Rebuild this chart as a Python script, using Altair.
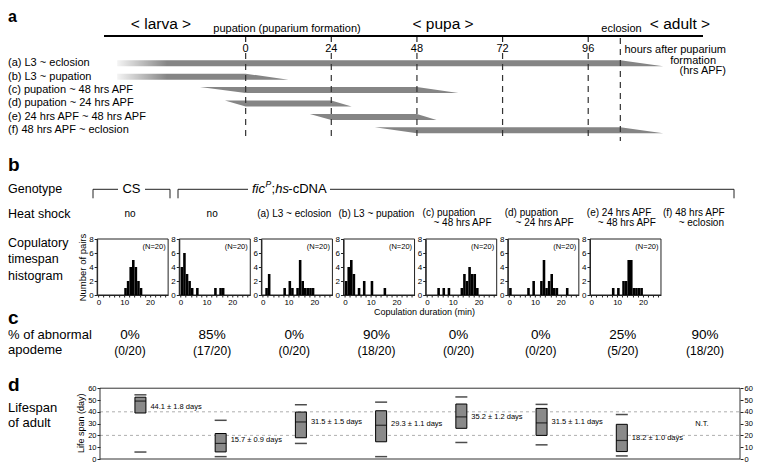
import altair as alt
import pandas as pd

FONT = "Liberation Sans"

# ---------------- data ----------------
# panel a : heat-shock periods, hours after puparium formation (hrs APF)
tick_hours = [0, 24, 48, 72, 96]
eclosion_hour = 105
row_labels = ["(a) L3 ~ eclosion", "(b) L3 ~ pupation", "(c) pupation ~ 48 hrs APF",
              "(d) pupation ~ 24 hrs APF", "(e) 24 hrs APF ~ 48 hrs APF",
              "(f) 48 hrs APF ~ eclosion"]
bar_start = [-36, -36, 0, 0, 24, 48]
bar_end = [105, 0, 48, 24, 48, 105]
lead_taper = [0, 0, 12.8, 5.8, 6.0, 11.8]
tail_taper = [12, 12, 11.6, 5.7, 5.5, 12]
fade_rows = [0, 1]
fade_until = -22

# panel b : genotype / heat shock / copulation-duration histograms
heat_line1 = ["no", "no", "(a) L3 ~ eclosion", "(b) L3 ~ pupation",
              "(c) pupation", "(d) pupation", "(e) 24 hrs APF", "(f) 48 hrs APF"]
heat_line2 = ["", "", "", "", "~ 48 hrs APF", "~ 24 hrs APF", "~ 48 hrs APF", "~ eclosion"]
hist_minutes = [
    [10, 11, 12, 13, 14, 15, 16],
    [0, 1, 2, 3, 4, 6, 13, 15, 16],
    [1, 2, 8, 10, 11, 13, 14, 15, 16, 17, 18, 19],
    [0, 1, 2, 3, 5, 7, 10, 15],
    [4, 6, 8, 13, 14, 15, 16, 17, 18, 19],
    [0, 7, 9, 12, 13, 14, 15, 16, 17, 18, 22],
    [8, 10, 12, 13, 14, 15, 16, 17, 18, 19],
]
hist_counts = [
    [1, 2, 4, 5, 4, 2, 1],
    [4, 6, 3, 2, 1, 1, 1, 1, 1],
    [1, 3, 1, 2, 1, 1, 5, 2, 1, 1, 1, 1],
    [2, 4, 5, 3, 1, 2, 2, 1],
    [1, 1, 1, 1, 3, 2, 4, 3, 3, 1],
    [1, 1, 2, 2, 5, 1, 2, 3, 1, 1, 1],
    [1, 1, 2, 2, 5, 5, 1, 1, 1, 1],
]
n_pairs = 20
count_ticks = [0, 2, 4, 6, 8]
minute_ticks = [0, 2, 4, 6, 8, 10, 12, 14, 16, 18, 20, 22, 24, 26]

# panel c : abnormal apodeme counts (out of 20)
abnormal = [0, 17, 0, 18, 0, 0, 5, 18]

# panel d : adult lifespan (days)
life_q1 = [39, 6, 18, 14.6, 26, 20, 6.3]
life_q3 = [52.4, 21.6, 39.8, 40.9, 46.6, 42.9, 29.4]
life_med = [49.1, 13.2, 31.4, 28.6, 35.7, 30.6, 15.7]
life_lo = [5.9, 2, 13.2, 2, 14, 12, 2.6]
life_hi = [54.4, 32.8, 46, 48.2, 52.6, 46.3, 37.7]
life_mean = [44.1, 15.7, 31.5, 29.3, 35.2, 31.5, 18.2]
life_sem = [1.8, 0.9, 1.5, 1.1, 1.2, 1.1, 1.0]
nt_label = "N.T."
nt_day = 30
grid_days = [20, 40]
day_ticks = [0, 10, 20, 30, 40, 50, 60]

# ---------------- helpers ----------------
ONE = pd.DataFrame({"d": [0]})


def text_layer(text, x, y, size=11, align="left", baseline="middle",
               weight="normal", style="normal"):
    return alt.Chart(pd.DataFrame({"t": [text]})).mark_text(
        align=align, baseline=baseline, fontSize=size, fontWeight=weight,
        fontStyle=style, font=FONT, color="black",
    ).encode(x=alt.value(x), y=alt.value(y), text="t:N")


def hline(x1, x2, y, width=1.0, color="#222"):
    return alt.Chart(ONE).mark_rule(strokeWidth=width, color=color).encode(
        x=alt.value(x1), x2=alt.value(x2), y=alt.value(y))


def vline(x, y1, y2, width=1.0, color="#222"):
    return alt.Chart(ONE).mark_rule(strokeWidth=width, color=color).encode(
        x=alt.value(x), y=alt.value(y1), y2=alt.value(y2))


def frame(w, h, color="#222"):
    return alt.Chart(ONE).mark_rect(fill="white", fillOpacity=0, stroke=color,
                                    strokeWidth=1).encode(
        x=alt.value(0), x2=alt.value(w), y=alt.value(0), y2=alt.value(h))


BAR_GRAY = "#858585"

# ---------------- panel a ----------------
hx = alt.Scale(domain=[-66.6, 143.3], nice=False, zero=False)
ry = alt.Scale(domain=[-4.052, 7.142], reverse=True, nice=False, zero=False)
HB = 0.224

poly = []
for i, (s, e, ld, tl) in enumerate(zip(bar_start, bar_end, lead_taper, tail_taper)):
    if ld > 0:
        poly.append(dict(row=i, h=s - ld, top=i - HB, bot=i - HB))
    poly.append(dict(row=i, h=s, top=i - HB, bot=i + HB))
    poly.append(dict(row=i, h=e, top=i - HB, bot=i + HB))
    poly.append(dict(row=i, h=e + tl, top=i + HB, bot=i + HB))
poly_df = pd.DataFrame(poly)

bars_a = alt.Chart(poly_df).mark_area(color=BAR_GRAY, interpolate="linear").encode(
    x=alt.X("h:Q", scale=hx, axis=None),
    y=alt.Y("top:Q", scale=ry, axis=None, stack=None),
    y2="bot:Q",
    detail="row:N",
)

fade_df = pd.DataFrame({
    "h1": [bar_start[i] - 0.6 for i in fade_rows],
    "h2": [fade_until for _ in fade_rows],
    "top": [i - HB - 0.05 for i in fade_rows],
    "bot": [i + HB + 0.05 for i in fade_rows],
})
fade = alt.Chart(fade_df).mark_rect(
    fill=alt.LinearGradient(
        gradient="linear",
        stops=[alt.GradientStop(color="rgba(255,255,255,0.95)", offset=0),
               alt.GradientStop(color="rgba(255,255,255,0)", offset=1)],
        x1=0, x2=1, y1=0, y2=0)
).encode(
    x=alt.X("h1:Q", scale=hx, axis=None), x2="h2:Q",
    y=alt.Y("top:Q", scale=ry, axis=None), y2="bot:Q",
)

ticks_df = pd.DataFrame({"h": tick_hours, "lab": [str(t) for t in tick_hours]})
ecl_df = pd.DataFrame({"h": [eclosion_hour]})

tick_marks = alt.Chart(ticks_df).mark_rule(color="#222", strokeWidth=1.2).encode(
    x=alt.X("h:Q", scale=hx, axis=None), y=alt.value(27), y2=alt.value(33))
tick_dash = alt.Chart(ticks_df).mark_rule(color="#333", strokeWidth=1.2,
                                           strokeDash=[6, 5]).encode(
    x=alt.X("h:Q", scale=hx, axis=None), y=alt.value(44), y2=alt.value(132))
ecl_dash = alt.Chart(ecl_df).mark_rule(color="#333", strokeWidth=1.2,
                                        strokeDash=[6, 5]).encode(
    x=alt.X("h:Q", scale=hx, axis=None), y=alt.value(29), y2=alt.value(132))
tick_text = alt.Chart(ticks_df).mark_text(fontSize=11, font=FONT, color="black").encode(
    x=alt.X("h:Q", scale=hx, axis=None), y=alt.value(39.7), text="lab:N")

rows_df = pd.DataFrame({"i": list(range(len(row_labels))), "label": row_labels})
row_text = alt.Chart(rows_df).mark_text(align="left", fontSize=11, font=FONT,
                                        color="black").encode(
    x=alt.value(0), y=alt.Y("i:Q", scale=ry, axis=None), text="label:N")

A = alt.layer(
    bars_a, fade, tick_dash, ecl_dash, tick_marks,
    hline(96, 695, 27, width=2.2, color="black"),
    tick_text, row_text,
    text_layer("a", 0, 12.8, size=16, weight="bold", baseline="alphabetic"),
    text_layer("< larva >", 153, 20, size=15.5, align="center", baseline="alphabetic"),
    text_layer("< pupa >", 435, 20, size=15.5, align="center", baseline="alphabetic"),
    text_layer("< adult >", 672, 20, size=15.5, align="center", baseline="alphabetic"),
    text_layer("pupation (puparium formation)", 279, 19.5, size=11, align="center"),
    text_layer("eclosion", 613.5, 19.5, size=11, align="center"),
    text_layer("hours after puparium", 718, 41, size=11, align="right"),
    text_layer("formation", 708, 51.5, size=11, align="right"),
    text_layer("(hrs APF)", 718, 62, size=11, align="right"),
).properties(width=749, height=150)

# ---------------- panel b header ----------------
colx = alt.Scale(domain=[-1.485, 7.633], nice=False, zero=False)
heat_df = pd.DataFrame({"k": list(range(8)), "l1": heat_line1, "l2": heat_line2})
XC = alt.X("k:Q", scale=colx, axis=None)

heat_single = alt.Chart(heat_df).transform_filter("datum.l2 == ''").mark_text(
    fontSize=10, font=FONT, color="black").encode(x=XC, y=alt.value(55), text="l1:N")
heat_two_a = alt.Chart(heat_df).transform_filter("datum.l2 != '' && datum.k < 7").mark_text(
    fontSize=10, font=FONT, color="black", align="left", dx=-36).encode(
    x=XC, y=alt.value(53.7), text="l1:N")
heat_two_b = alt.Chart(heat_df).transform_filter("datum.l2 != '' && datum.k < 7").mark_text(
    fontSize=10, font=FONT, color="black", align="right", dx=33).encode(
    x=XC, y=alt.value(63.7), text="l2:N")
heat_last_a = alt.Chart(heat_df).transform_filter("datum.k == 7").mark_text(
    fontSize=10, font=FONT, color="black", align="left", dx=-42).encode(
    x=XC, y=alt.value(53.7), text="l1:N")
heat_last_b = alt.Chart(heat_df).transform_filter("datum.k == 7").mark_text(
    fontSize=10, font=FONT, color="black", align="right", dx=19).encode(
    x=XC, y=alt.value(63.7), text="l2:N")

FB = 34.2  # baseline of genotype text
B1 = alt.layer(
    text_layer("b", 0, 12, size=19, weight="bold", baseline="alphabetic"),
    text_layer("Genotype", 0, 29.5, size=12.5),
    text_layer("Heat shock", 0, 55.3, size=12.5),
    vline(85, 30.3, 39.3), hline(85, 110, 30.3), hline(137, 162, 30.3), vline(162, 30.3, 39.3),
    text_layer("CS", 123.5, 29.5, size=13, align="center"),
    vline(170, 30.3, 39.3), hline(170, 240, 30.3),
    text_layer("fic", 244, FB, size=13, style="italic", baseline="alphabetic"),
    text_layer("P", 257.5, FB - 6, size=8.5, style="italic", baseline="alphabetic"),
    text_layer(";", 263.5, FB, size=13, baseline="alphabetic"),
    text_layer("hs", 267.3, FB, size=13, style="italic", baseline="alphabetic"),
    text_layer("-cDNA", 280.3, FB, size=13, baseline="alphabetic"),
    hline(322, 726, 30.3), vline(726, 30.3, 39.3),
    heat_single, heat_two_a, heat_two_b, heat_last_a, heat_last_b,
).properties(width=749, height=80)

# ---------------- panel b histograms ----------------
HW, HH = 71, 56
hist_x = alt.Scale(domain=[-0.5, 27], nice=False, zero=False)
hist_y = alt.Scale(domain=[0, 8], nice=False, zero=False)


def histogram(idx):
    df = pd.DataFrame({"m": hist_minutes[idx], "c": hist_counts[idx]})
    df["m2"] = df["m"] + 1
    df["z"] = 0
    xaxis = alt.Axis(values=minute_ticks, tickSize=2, labelFontSize=8, labelPadding=1,
                     labelExpr="datum.value % 10 === 0 ? datum.label : ''",
                     labelOverlap=False, labelFlush=False, grid=False,
                     domainColor="#222", tickColor="#222")
    if idx == 0:
        yaxis = alt.Axis(values=count_ticks, tickSize=3, labelFontSize=8, labelPadding=1,
                         grid=False, title="Number of pairs", titleFontSize=9.5,
                         titleFontWeight="normal", titlePadding=1)
    else:
        yaxis = alt.Axis(values=count_ticks, tickSize=3, labelFontSize=8, labelPadding=1,
                         grid=False, title=None)
    bars = alt.Chart(df).mark_rect(color="black").encode(
        x=alt.X("m:Q", scale=hist_x, axis=xaxis, title=None),
        x2="m2:Q",
        y=alt.Y("c:Q", scale=hist_y, axis=yaxis),
        y2="z:Q",
    )
    ntext = text_layer(f"(N={n_pairs})", HW - 2.5, 8.3, size=7.5, align="right")
    return alt.layer(frame(HW, HH), bars, ntext).properties(width=HW, height=HH)


spacer_b2 = alt.layer(
    text_layer("Copulatory", 0, 3.7, size=12.5),
    text_layer("timespan", 0, 20.3, size=12.5),
    text_layer("histogram", 0, 37, size=12.5),
).properties(width=77.86, height=HH)

B2 = alt.hconcat(spacer_b2, *[histogram(i) for i in range(len(hist_counts))],
                 spacing=11.14, bounds="flush")
# a nested concat takes no height in a flush layout: reserve the row explicitly
B2_room = text_layer("", 0, 0).properties(width=10, height=HH)

# ---------------- panel c ----------------
pct_df = pd.DataFrame({
    "k": list(range(8)),
    "pct": [f"{round(100 * a / n_pairs)}%" for a in abnormal],
    "frac": [f"({a}/{n_pairs})" for a in abnormal],
})
pct_text = alt.Chart(pct_df).mark_text(fontSize=13.5, font=FONT, color="black").encode(
    x=XC, y=alt.value(40.3), text="pct:N")
frac_text = alt.Chart(pct_df).mark_text(fontSize=12, font=FONT, color="black").encode(
    x=XC, y=alt.value(56), text="frac:N")

C = alt.layer(
    text_layer("Copulation duration (min)", 416.5, 17, size=9, align="center"),
    text_layer("c", 0, 29, size=19, weight="bold", baseline="alphabetic"),
    text_layer("% of abnormal", 0, 40.3, size=13),
    text_layer("apodeme", 0, 55.3, size=13),
    pct_text, frac_text,
).properties(width=749, height=78)

# ---------------- panel d ----------------
D_text = alt.layer(
    text_layer("d", 0, 18, size=19, weight="bold", baseline="alphabetic"),
    text_layer("Lifespan", 0, 35.3, size=13),
    text_layer("of adult", 0, 49.7, size=13),
).properties(width=92, height=86)

BW, BH = 640, 86
bx = alt.Scale(domain=[-0.4417, 7.411], nice=False, zero=False)
dy = alt.Scale(domain=[0, 72.9], nice=False, zero=False)
XB = alt.X("k:Q", scale=bx, axis=None)

box_df = pd.DataFrame({
    "k": list(range(len(life_q1))), "q1": life_q1, "q3": life_q3, "med": life_med,
    "lo": life_lo, "hi": life_hi, "mean": life_mean,
    "lab": [f"{m} \u00b1 {s} days" for m, s in zip(life_mean, life_sem)],
})
left_axis = alt.Axis(values=day_ticks, tickSize=3, labelFontSize=7.5, labelPadding=1,
                     domain=False, grid=False, title="Life span (day)", titleFontSize=9,
                     titleFontWeight="normal", titlePadding=2, titleY=49.7)
right_axis = alt.Axis(values=day_ticks, tickSize=3, labelFontSize=7.5, labelPadding=1,
                      domain=False, grid=False, title=None, orient="right")


def YD(field):
    return alt.Y(field, type="quantitative", scale=dy, axis=left_axis)


grid_lines = alt.Chart(pd.DataFrame({"g": grid_days})).mark_rule(
    color="#9a9a9a", strokeDash=[3, 3], strokeWidth=0.8).encode(
    y=YD("g"), x=alt.value(0), x2=alt.value(BW))
frame_d = alt.Chart(pd.DataFrame({"top": [max(day_ticks)], "bot": [0]})).mark_rect(
    fill="white", fillOpacity=0, stroke="#333", strokeWidth=1).encode(
    x=alt.value(0), x2=alt.value(BW), y=YD("top"), y2="bot:Q")
boxes = alt.Chart(box_df).mark_bar(size=11, fill="#8a8a8a", stroke="black",
                                   strokeWidth=1).encode(
    x=XB, y=YD("q1"), y2="q3:Q")
medians = alt.Chart(box_df).mark_tick(orient="horizontal", size=11, thickness=1.2,
                                      color="black").encode(x=XB, y=YD("med"))
caps_lo = alt.Chart(box_df).mark_tick(orient="horizontal", size=12, thickness=1.5,
                                      color="black").encode(x=XB, y=YD("lo"))
caps_hi = alt.Chart(box_df).mark_tick(orient="horizontal", size=12, thickness=1.5,
                                      color="black").encode(x=XB, y=YD("hi"))
box_labels = alt.Chart(box_df).mark_text(align="left", dx=10, fontSize=7.5, font=FONT,
                                         color="black").encode(
    x=XB, y=YD("mean"), text="lab:N")

inner_d = alt.layer(grid_lines, frame_d, boxes, medians, caps_lo, caps_hi, box_labels)
nt_layer = alt.Chart(pd.DataFrame({"k": [7], "v": [nt_day], "t": [nt_label]})).mark_text(
    fontSize=7.5, font=FONT, color="black").encode(
    x=XB, y=alt.Y("v:Q", scale=dy, axis=right_axis), text="t:N")

D_box = alt.layer(inner_d, nt_layer).resolve_scale(y="independent").properties(
    width=BW, height=BH)

D = alt.hconcat(D_text, D_box, spacing=0, bounds="flush")

chart = alt.vconcat(A, B1, B2, B2_room, C, D, spacing=0, bounds="flush").properties(
    padding={"left": 0, "top": 0, "right": 0, "bottom": 0}
).configure_view(stroke=None).configure_axis(
    labelFont=FONT, titleFont=FONT, labelColor="black", titleColor="black",
    domainColor="#222", tickColor="#222"
).configure_text(font=FONT)

chart.save("out.html", embed_options={"renderer": "svg", "actions": False})
